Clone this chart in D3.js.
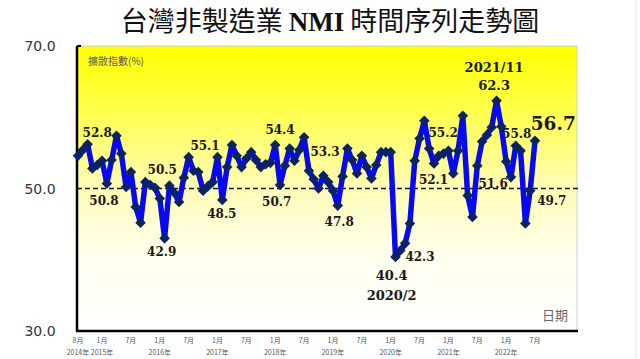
<!DOCTYPE html>
<html><head><meta charset="utf-8">
<script src="https://cdn.jsdelivr.net/npm/d3@7"></script>
<style>body{margin:0;background:#fff}svg{display:block}</style>
</head><body>
<script>
// ---- data ----
const startLabel = "2014/8";
const values = [54.6,55.4,56.2,52.8,53.3,53.9,50.7,54.0,57.4,54.9,50.2,52.3,47.4,45.2,50.9,50.5,50.1,48.6,43.0,50.4,
 49.4,48.1,51.5,54.4,52.5,52.3,49.7,50.3,50.9,54.4,48.4,53.0,56.1,54.6,53.0,54.2,55.1,54.0,53.0,53.4,
 53.6,56.1,50.5,53.2,55.6,53.9,55.4,57.2,52.5,51.3,50.0,51.8,50.9,49.7,47.6,51.7,55.6,54.0,52.1,54.6,
 53.0,51.4,53.3,55.1,55.1,55.1,40.4,41.3,42.3,45.1,53.9,57.0,59.5,55.6,53.5,54.6,54.9,55.3,52.1,55.3,
 60.2,49.0,46.0,53.2,56.6,57.5,58.6,62.3,58.7,53.8,51.6,56.0,55.3,45.1,49.7,56.7];
const yTicks = [30, 50, 70];
const xTickIdx = [0,5,11,17,23,29,35,41,47,53,59,65,71,77,83,89,95];
const xTickMonth = ["8月","1月","7月","1月","7月","1月","7月","1月","7月","1月","7月","1月","7月","1月","7月","1月","7月"];
const xTickYear = ["2014年","2015年","","2016年","","2017年","","2018年","","2019年","","2020年","","2021年","","2022年",""];
// annotation texts with anchor in data units [month index, value]
const annText = ["52.8","50.8","50.5","42.9","55.1","48.5","54.4","50.7","53.3","47.8","40.4","2020/2","42.3","52.1","55.2","2021/11","62.3","51.6","55.8","56.7","49.7"];
const annIdx  = [4.0,5.4,17.5,17.4,26.4,29.9,42.0,41.3,51.35,54.3,65.2,65.2,71.1,73.9,75.9,86.5,86.5,86.3,91.2,98.8,98.5];
const annVal  = [57.8,48.3,52.6,41.1,56.0,46.4,58.2,48.15,55.2,45.4,37.8,35.05,40.5,51.2,57.8,67.0,64.5,50.7,57.75,59.15,48.3];

// ---- drawing ----
const W = 640, H = 359;
const svg = d3.select("body").append("svg").attr("width", W).attr("height", H);
const L = 77, R = 577, T = 46, B = 331;
const x = d3.scaleLinear().domain([0, 95]).range([78, 535]);
const y = d3.scaleLinear().domain([30, 70]).range([B, T]);

const defs = svg.append("defs");
const g = defs.append("linearGradient").attr("id","bg").attr("x1",0).attr("y1",0).attr("x2",0).attr("y2",1);
g.append("stop").attr("offset","0%").attr("stop-color","#ffff00");
g.append("stop").attr("offset","25%").attr("stop-color","#ffff55");
g.append("stop").attr("offset","50%").attr("stop-color","#fffcb8");
g.append("stop").attr("offset","75%").attr("stop-color","#fffff0");
g.append("stop").attr("offset","100%").attr("stop-color","#ffffff");

svg.append("rect").attr("x",L).attr("y",T).attr("width",R-L).attr("height",B-T)
  .attr("fill","url(#bg)").attr("stroke","#d0d0d0").attr("stroke-width",1);
svg.append("line").attr("x1",636).attr("x2",636).attr("y1",0).attr("y2",H).attr("stroke","#e4e4e4");

// title
const title = svg.append("text").attr("x",330).attr("y",31).attr("text-anchor","middle")
  .attr("font-size",27).attr("fill","#111");
title.append("tspan").attr("font-family","'Noto Sans CJK TC'").text("台灣非製造業 ");
title.append("tspan").attr("font-family","'Liberation Serif'").attr("font-weight","bold").text("NMI");
title.append("tspan").attr("font-family","'Noto Sans CJK TC'").text(" 時間序列走勢圖");

// y tick labels
svg.selectAll(".yt").data(yTicks).enter().append("text")
  .attr("x",40).attr("y",d=>y(d)).attr("dy","0.36em").attr("text-anchor","middle")
  .attr("font-family","'DejaVu Sans'").attr("font-size",14).attr("fill","#333")
  .text(d=>d3.format(".1f")(d));

// x tick labels
svg.selectAll(".xm").data(xTickIdx).enter().append("text")
  .attr("x",d=>x(d)).attr("y",343).attr("text-anchor","middle")
  .attr("font-family","'Noto Sans CJK TC'").attr("font-size",7).attr("fill","#555")
  .text((d,i)=>xTickMonth[i]);
svg.selectAll(".xy").data(xTickIdx).enter().append("text")
  .attr("x",d=>x(d)).attr("y",355).attr("text-anchor","middle")
  .attr("font-family","'Noto Sans CJK TC'").attr("font-size",7).attr("fill","#555")
  .text((d,i)=>xTickYear[i]);

// axis titles
svg.append("text").attr("x",88).attr("y",65).attr("font-family","'Noto Sans CJK TC'")
  .attr("font-size",10).attr("fill","#555").text("擴散指數(%)");
svg.append("text").attr("x",555).attr("y",320).attr("text-anchor","middle").attr("font-family","'Noto Sans CJK TC'")
  .attr("font-size",13).attr("fill","#666").text("日期");

// 50 dashed line
svg.append("line").attr("x1",L).attr("x2",581).attr("y1",y(50)).attr("y2",y(50))
  .attr("stroke","#111").attr("stroke-width",1.6).attr("stroke-dasharray","5,3");

// axes
svg.append("line").attr("x1",L).attr("x2",L).attr("y1",T).attr("y2",B+1).attr("stroke","#000").attr("stroke-width",2.5);
svg.append("line").attr("x1",L-1).attr("x2",R+1).attr("y1",B).attr("y2",B).attr("stroke","#000").attr("stroke-width",2.5);
svg.append("line").attr("x1",L).attr("x2",L+4).attr("y1",T).attr("y2",T).attr("stroke","#000").attr("stroke-width",2);

// series line
const line = d3.line().x((d,i)=>x(i)).y(d=>y(d));
svg.append("path").datum(values).attr("d",line).attr("fill","none")
  .attr("stroke","#0808f2").attr("stroke-width",5.5).attr("stroke-linejoin","round");

// markers
const sym = d3.symbol().type(d3.symbolSquare).size(56);
svg.selectAll(".mk").data(values).enter().append("path")
  .attr("d",sym).attr("transform",(d,i)=>`translate(${x(i)},${y(d)}) rotate(45)`)
  .attr("fill","#0b2265");

// annotations
svg.selectAll(".an").data(annText).enter().append("text")
  .attr("x",(d,i)=>x(annIdx[i])).attr("y",(d,i)=>y(annVal[i])).attr("dy","0.36em")
  .attr("text-anchor","middle").attr("font-family","'DejaVu Serif'").attr("font-weight","bold")
  .attr("font-size",d=>d==="56.7"?18.5:(d==="2021/11"||d==="62.3"||d==="2020/2"||d==="40.4"?13:12))
  .attr("fill","#1a1a1a").text(d=>d);
</script>
</body></html>
